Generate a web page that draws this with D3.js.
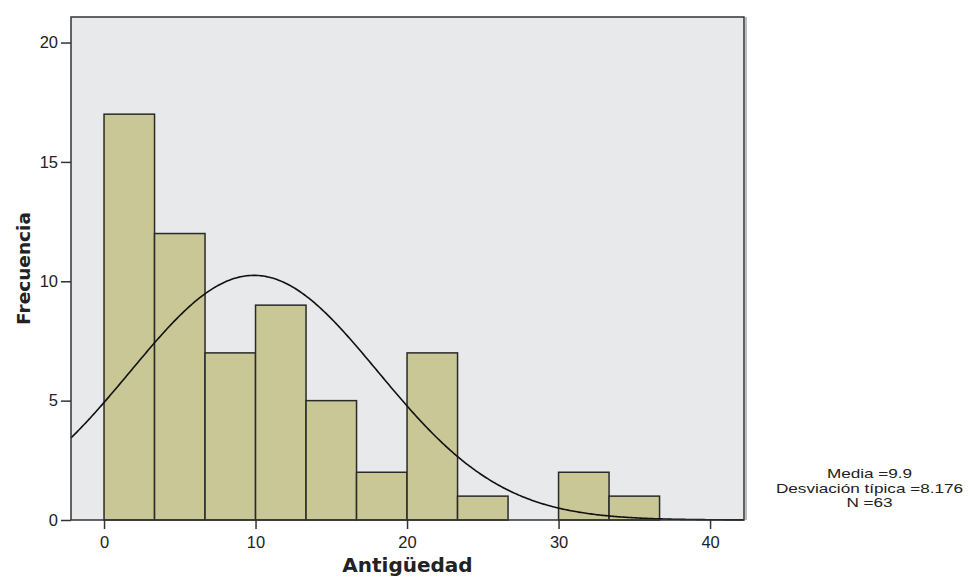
<!DOCTYPE html>
<html>
<head>
<meta charset="utf-8">
<script src="https://cdnjs.cloudflare.com/ajax/libs/d3/7.8.5/d3.min.js"></script>
<style>
  body { margin: 0; background: #fff; }
  text { font-family: "Liberation Sans", Arial, sans-serif; fill: #222; }
</style>
</head>
<body>
<svg id="hist" width="969" height="579"></svg>
<script>
// histogram data (Antigüedad)
var binStart = 0,
    binWidth = 10 / 3;
var counts = [17, 12, 7, 9, 5, 2, 7, 1, 0, 2, 1];
var xTicks = [0, 10, 20, 30, 40];
var yTicks = [0, 5, 10, 15, 20];
var stats = { mean: 9.9, sd: 8.176, n: 63 };
var legendLines = ["Media =9.9", "Desviación típica =8.176", "N =63"];

var margin = {top: 17, right: 225, bottom: 59, left: 71},
    width = 969 - margin.left - margin.right,
    height = 579 - margin.top - margin.bottom;

var svg = d3.select("#hist"),
    g = svg.append("g").attr("transform", "translate(" + margin.left + "," + margin.top + ")");

var x = d3.scaleLinear().domain([-2.18, 42.24]).range([0, width]);
var y = d3.scaleLinear().domain([0, 21.07]).range([height, 0]);

// plot background
g.append("rect")
  .attr("width", width).attr("height", height)
  .attr("fill", "#e8e9eb");

var bins = counts.map(function(c, i) {
  return {x0: binStart + i * binWidth, x1: binStart + (i + 1) * binWidth, n: c};
}).filter(function(d) { return d.n > 0; });

g.selectAll(".bar")
  .data(bins)
  .enter().append("rect")
  .attr("class", "bar")
  .attr("x", function(d) { return x(d.x0); })
  .attr("y", function(d) { return y(d.n); })
  .attr("width", function(d) { return x(d.x1) - x(d.x0); })
  .attr("height", function(d) { return y(0) - y(d.n); })
  .attr("fill", "#c9c796")
  .attr("stroke", "#2a2a2a")
  .attr("stroke-width", 1.5);

// normal curve scaled to counts
var scale = stats.n * binWidth / (stats.sd * Math.sqrt(2 * Math.PI));
var curveX = d3.range(x.domain()[0], x.domain()[1] + 0.01, 0.1);
var line = d3.line()
  .x(function(d) { return x(d); })
  .y(function(d) { return y(scale * Math.exp(-0.5 * Math.pow((d - stats.mean) / stats.sd, 2))); });

g.append("path")
  .datum(curveX)
  .attr("d", line)
  .attr("fill", "none")
  .attr("stroke", "#111")
  .attr("stroke-width", 1.6);

// frame
g.append("rect")
  .attr("width", width).attr("height", height)
  .attr("fill", "none")
  .attr("stroke", "#333")
  .attr("stroke-width", 1.5);
// faint shadow on the right edge
g.append("line")
  .attr("x1", width + 2).attr("x2", width + 2)
  .attr("y1", 0).attr("y2", height)
  .attr("stroke", "#aaa").attr("stroke-width", 1.5);

var xAxis = g.append("g")
  .attr("transform", "translate(0," + height + ")")
  .call(d3.axisBottom(x).tickValues(xTicks).tickSize(9).tickPadding(7));
var yAxis = g.append("g")
  .call(d3.axisLeft(y).tickValues(yTicks).tickSize(10).tickPadding(3));

[xAxis, yAxis].forEach(function(a) {
  a.select(".domain").remove();
  a.selectAll("line").attr("stroke", "#333").attr("stroke-width", 1.5);
  a.selectAll("text").attr("font-size", 16.5).attr("fill", "#222")
    .style("font-family", "'Liberation Sans', Arial, sans-serif");
});

// axis titles
svg.append("text")
  .attr("x", margin.left + width / 2).attr("y", 572)
  .attr("text-anchor", "middle")
  .attr("font-size", 20).attr("font-weight", "bold")
  .style("font-family", "'DejaVu Sans', Verdana, sans-serif")
  .text("Antigüedad");

svg.append("text")
  .attr("transform", "translate(30," + (margin.top + height / 2) + ") rotate(-90)")
  .attr("text-anchor", "middle")
  .attr("font-size", 18.5).attr("font-weight", "bold")
  .style("font-family", "'DejaVu Sans', Verdana, sans-serif")
  .text("Frecuencia");

// stats legend (slightly stretched horizontally like the original)
svg.append("g")
  .attr("transform", "translate(869.5,0) scale(1.27,1)")
  .selectAll("text")
  .data(legendLines)
  .enter().append("text")
  .attr("x", 0)
  .attr("y", function(d, i) { return 478.5 + i * 14.5; })
  .attr("text-anchor", "middle")
  .attr("font-size", 13.5)
  .text(function(d) { return d; });
</script>
</body>
</html>
